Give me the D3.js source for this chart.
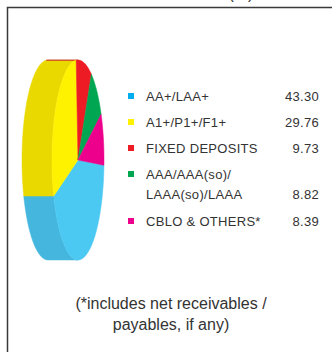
<!DOCTYPE html>
<html>
<head>
<meta charset="utf-8">
<script src="https://cdn.jsdelivr.net/npm/d3@7"></script>
<style>
  html, body { margin: 0; padding: 0; background: #fff; }
  svg { display: block; }
</style>
</head>
<body>
<div id="chart"></div>
<script>
// data
var categories = ["AA+/LAA+", "A1+/P1+/F1+", "FIXED DEPOSITS", "AAA/AAA(so)/|LAAA(so)/LAAA", "CBLO & OTHERS*"];
var values = [43.30, 29.76, 9.73, 8.82, 8.39];
var valueLabels = ["43.30", "29.76", "9.73", "8.82", "8.39"];
var topColors = ["#4bc9f2", "#fff200", "#ed1c24", "#00a651", "#ec008c"];
var sideColors = ["#45b7df", "#e9d900", "#c8141b", "#008a43", "#c40074"];
var keyColors = ["#00aeef", "#fff200", "#ed1c24", "#00a651", "#ec008c"];
var footnote = ["(*includes net receivables /", "payables, if any)"];

var W = 332, H = 352;
var svg = d3.select("#chart").append("svg")
    .attr("width", W)
    .attr("height", H);

// frame (only top + left edges are in view)
svg.append("path")
    .attr("d", "M7.5," + H + "V7.5H" + W)
    .attr("fill", "none")
    .attr("stroke", "#3a3a3a")
    .attr("stroke-width", 1.5);

// unit label cut off at top
svg.append("text")
    .attr("x", 241).attr("y", -1)
    .attr("text-anchor", "middle")
    .style("font-family", "'Liberation Sans', Arial, sans-serif")
    .style("font-size", "16px")
    .attr("fill", "#333")
    .text("(%)");

// 3d pie seen almost edge-on
var cx = 78, cy = 160, rx = 26, ry = 100, depth = 30;
var start = 93 * Math.PI / 180;

var pie = d3.pie().sort(null).value(function (d) { return d; })
    .startAngle(start).endAngle(start + 2 * Math.PI);
var arcs = pie(values);

function pt(a, off) {
    return [cx - (off || 0) + rx * Math.sin(a), cy - ry * Math.cos(a)];
}
function samples(a0, a1) {
    var n = Math.max(2, Math.ceil(Math.abs(a1 - a0) / 0.02));
    return d3.range(n + 1).map(function (i) { return a0 + (a1 - a0) * i / n; });
}

var line = d3.line();

// side walls (visible half: angles PI..2PI)
var sides = svg.append("g");
arcs.forEach(function (d, i) {
    [0, 2 * Math.PI].forEach(function (shift) {
        var s = Math.max(d.startAngle, Math.PI + shift);
        var e = Math.min(d.endAngle, 2 * Math.PI + shift);
        if (e <= s) return;
        var front = samples(s, e).map(function (a) { return pt(a, 0); });
        var back = samples(e, s).map(function (a) { return pt(a, depth); });
        sides.append("path")
            .attr("d", line(front.concat(back)) + "Z")
            .attr("fill", sideColors[i])
            .attr("stroke", sideColors[i])
            .attr("stroke-width", 0.5);
    });
});

// top faces
var tops = svg.append("g");
arcs.forEach(function (d, i) {
    var p = [[cx, cy]].concat(samples(d.startAngle, d.endAngle).map(function (a) { return pt(a, 0); }));
    tops.append("path")
        .attr("d", line(p) + "Z")
        .attr("fill", topColors[i])
        .attr("stroke", topColors[i])
        .attr("stroke-width", 0.5);
});

// legend
var rowY = d3.scaleOrdinal().domain(d3.range(5)).range([101, 127, 153, 179, 226]);
var legend = svg.append("g")
    .style("font-family", "'Liberation Sans', Arial, sans-serif")
    .style("font-size", "13px")
    .style("letter-spacing", "0.3px")
    .attr("fill", "#333");

categories.forEach(function (c, i) {
    var y = rowY(i);
    legend.append("rect")
        .attr("x", 128).attr("y", y - 8)
        .attr("width", 6).attr("height", 6)
        .attr("fill", keyColors[i]);
    var parts = c.split("|");
    parts.forEach(function (t, j) {
        legend.append("text")
            .attr("x", 146).attr("y", y + j * 20)
            .text(t);
    });
    legend.append("text")
        .attr("x", 319).attr("y", y + (parts.length - 1) * 20)
        .attr("text-anchor", "end")
        .text(valueLabels[i]);
});

// footnote
svg.append("g").selectAll("text")
    .data(footnote)
    .enter().append("text")
    .attr("x", 171)
    .attr("y", function (d, i) { return 309 + i * 21; })
    .attr("text-anchor", "middle")
    .style("font-family", "'Liberation Sans', Arial, sans-serif")
    .style("font-size", "16px")
    .attr("fill", "#333")
    .text(function (d) { return d; });
</script>
</body>
</html>
